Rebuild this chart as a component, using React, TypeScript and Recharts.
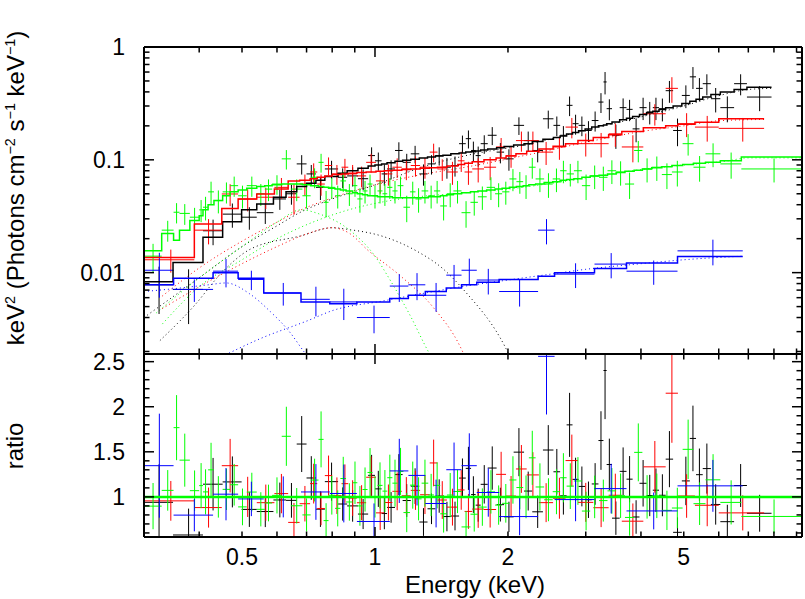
import React from 'react'
import { ComposedChart, Scatter, ErrorBar, Line, XAxis, YAxis, ReferenceLine } from 'recharts'

// frame edges (page pixels)
const W = 805
const H = 599
const PLOT_LEFT = 144
const PLOT_RIGHT = 802
const PLOT_TOP = 47
const PLOT_MID = 354
const PLOT_BOTTOM = 537
const FONT = '"Liberation Sans", Arial, Helvetica, sans-serif'

const BLACK = '#000000'
const RED = '#ff0000'
const GREEN = '#00ff00'
const BLUE = '#0000ff'

const energyDomain = [0.3, 9.26]
const energyTicks = [0.3, 0.4, 0.5, 0.6, 0.7, 0.8, 0.9, 1, 2, 3, 4, 5, 6, 7, 8, 9]
const energyLabels = [0.5, 1, 2, 5]
const fluxDomain = [0.0019, 1]
const fluxTicks = [0.002, 0.003, 0.004, 0.005, 0.006, 0.007, 0.008, 0.009, 0.01, 0.02, 0.03, 0.04, 0.05, 0.06, 0.07, 0.08, 0.09, 0.1, 0.2, 0.3, 0.4, 0.5, 0.6, 0.7, 0.8, 0.9, 1]
const fluxLabels = [0.01, 0.1, 1]
const ratioDomain = [0.555, 2.585]
const ratioTicks = [0.6, 0.7, 0.8, 0.9, 1, 1.1, 1.2, 1.3, 1.4, 1.5, 1.6, 1.7, 1.8, 1.9, 2, 2.1, 2.2, 2.3, 2.4, 2.5]
const ratioLabels = [1, 1.5, 2, 2.5]

// spectral bins: [E low, E high, data keV^2 flux, 1-sigma error, folded model in that bin]
type Bin = [number, number, number, number, number]

const blackBins: Bin[] = [
  [0.30, 0.349, 0.0078, 0.0035, 0.0083], [0.349, 0.408, 0.0071, 0.0036, 0.0123], [0.408, 0.452, 0.0235, 0.006, 0.0206],
  [0.452, 0.499, 0.033, 0.008, 0.0283], [0.499, 0.54, 0.031, 0.007, 0.036], [0.54, 0.589, 0.034, 0.007, 0.0406],
  [0.589, 0.629, 0.045, 0.009, 0.0466], [0.629, 0.665, 0.05, 0.01, 0.052], [0.665, 0.70, 0.092, 0.018, 0.058],
  [0.70, 0.735, 0.075, 0.015, 0.062], [0.735, 0.77, 0.057, 0.013, 0.066], [0.77, 0.825, 0.083, 0.015, 0.071],
  [0.825, 0.865, 0.07, 0.014, 0.076], [0.865, 0.915, 0.072, 0.014, 0.08], [0.915, 0.965, 0.068, 0.014, 0.084],
  [0.965, 1.0, 0.109, 0.02, 0.088], [1.0, 1.035, 0.098, 0.018, 0.09], [1.035, 1.065, 0.075, 0.016, 0.092],
  [1.065, 1.11, 0.083, 0.016, 0.094], [1.11, 1.155, 0.121, 0.022, 0.097], [1.155, 1.205, 0.095, 0.018, 0.099],
  [1.205, 1.26, 0.113, 0.02, 0.101], [1.26, 1.315, 0.075, 0.016, 0.104], [1.315, 1.37, 0.092, 0.018, 0.106],
  [1.37, 1.425, 0.109, 0.02, 0.108], [1.425, 1.485, 0.086, 0.018, 0.11], [1.485, 1.55, 0.089, 0.018, 0.113],
  [1.55, 1.605, 0.139, 0.025, 0.115], [1.605, 1.65, 0.154, 0.028, 0.117], [1.65, 1.69, 0.121, 0.024, 0.118],
  [1.69, 1.735, 0.109, 0.022, 0.12], [1.735, 1.80, 0.139, 0.026, 0.122], [1.80, 1.885, 0.165, 0.03, 0.125],
  [1.885, 1.96, 0.117, 0.024, 0.128], [1.96, 2.06, 0.102, 0.022, 0.131], [2.06, 2.175, 0.202, 0.036, 0.135],
  [2.175, 2.27, 0.148, 0.03, 0.139], [2.27, 2.40, 0.121, 0.026, 0.145], [2.40, 2.535, 0.231, 0.042, 0.152],
  [2.535, 2.625, 0.202, 0.04, 0.158], [2.625, 2.715, 0.165, 0.034, 0.163], [2.715, 2.80, 0.304, 0.06, 0.169],
  [2.80, 2.89, 0.209, 0.042, 0.175], [2.89, 2.99, 0.202, 0.04, 0.181], [2.99, 3.095, 0.182, 0.038, 0.188],
  [3.095, 3.205, 0.223, 0.045, 0.195], [3.205, 3.29, 0.325, 0.065, 0.2], [3.29, 3.345, 0.49, 0.11, 0.204],
  [3.345, 3.44, 0.284, 0.06, 0.209], [3.44, 3.58, 0.165, 0.04, 0.216], [3.58, 3.71, 0.29, 0.06, 0.226],
  [3.71, 3.83, 0.28, 0.06, 0.234], [3.83, 3.97, 0.188, 0.045, 0.242], [3.97, 4.12, 0.29, 0.065, 0.252],
  [4.12, 4.255, 0.266, 0.06, 0.262], [4.255, 4.395, 0.29, 0.065, 0.27], [4.395, 4.55, 0.284, 0.065, 0.279],
  [4.55, 4.73, 0.41, 0.09, 0.289], [4.73, 4.95, 0.182, 0.05, 0.3], [4.95, 5.16, 0.372, 0.085, 0.316],
  [5.16, 5.33, 0.544, 0.12, 0.33], [5.33, 5.52, 0.43, 0.1, 0.345], [5.52, 5.76, 0.473, 0.1, 0.36],
  [5.76, 6.05, 0.348, 0.085, 0.38], [6.05, 6.5, 0.29, 0.075, 0.4], [6.5, 6.95, 0.473, 0.1, 0.42],
  [6.95, 7.9, 0.36, 0.09, 0.44],
]

const redBins: Bin[] = [
  [0.30, 0.39, 0.013, 0.003, 0.0136], [0.39, 0.45, 0.0238, 0.006, 0.027], [0.45, 0.49, 0.0498, 0.011, 0.037],
  [0.49, 0.54, 0.0449, 0.01, 0.0449], [0.54, 0.592, 0.0466, 0.01, 0.0498], [0.592, 0.636, 0.057, 0.012, 0.055],
  [0.636, 0.675, 0.0466, 0.014, 0.065], [0.675, 0.713, 0.061, 0.013, 0.066], [0.713, 0.74, 0.078, 0.015, 0.068],
  [0.74, 0.77, 0.061, 0.013, 0.07], [0.77, 0.80, 0.089, 0.016, 0.072], [0.80, 0.84, 0.075, 0.015, 0.074],
  [0.84, 0.87, 0.086, 0.016, 0.075], [0.87, 0.91, 0.075, 0.015, 0.076], [0.91, 0.955, 0.072, 0.015, 0.077],
  [0.955, 1.005, 0.095, 0.018, 0.078], [1.005, 1.05, 0.065, 0.015, 0.079], [1.05, 1.095, 0.075, 0.016, 0.08],
  [1.095, 1.15, 0.086, 0.017, 0.081], [1.15, 1.205, 0.083, 0.017, 0.082], [1.205, 1.265, 0.089, 0.018, 0.083],
  [1.265, 1.33, 0.086, 0.018, 0.084], [1.33, 1.385, 0.117, 0.022, 0.085], [1.385, 1.455, 0.083, 0.018, 0.086],
  [1.455, 1.54, 0.078, 0.018, 0.088], [1.54, 1.595, 0.098, 0.02, 0.091], [1.595, 1.66, 0.078, 0.018, 0.093],
  [1.66, 1.765, 0.083, 0.02, 0.096], [1.765, 1.88, 0.086, 0.02, 0.1], [1.88, 1.98, 0.13, 0.026, 0.104],
  [1.98, 2.085, 0.109, 0.024, 0.108], [2.085, 2.205, 0.148, 0.03, 0.113], [2.205, 2.35, 0.148, 0.03, 0.119],
  [2.35, 2.53, 0.117, 0.027, 0.125], [2.53, 2.70, 0.13, 0.03, 0.132], [2.70, 2.88, 0.195, 0.04, 0.139],
  [2.88, 3.12, 0.139, 0.032, 0.148], [3.12, 3.38, 0.139, 0.034, 0.158], [3.38, 3.62, 0.17, 0.04, 0.167],
  [3.62, 4.05, 0.13, 0.035, 0.178], [4.05, 4.55, 0.256, 0.055, 0.192], [4.55, 4.85, 0.43, 0.11, 0.2],
  [4.85, 5.3, 0.209, 0.05, 0.207], [5.3, 6.0, 0.195, 0.05, 0.215], [6.0, 7.6, 0.19, 0.045, 0.231],
]

const greenBins: Bin[] = [
  [0.30, 0.329, 0.014, 0.004, 0.0156], [0.329, 0.35, 0.0238, 0.005, 0.0222], [0.35, 0.361, 0.0343, 0.007, 0.0194],
  [0.361, 0.381, 0.0335, 0.007, 0.0238], [0.381, 0.40, 0.031, 0.0065, 0.029], [0.40, 0.408, 0.036, 0.008, 0.032],
  [0.408, 0.419, 0.038, 0.009, 0.036], [0.419, 0.432, 0.052, 0.012, 0.04], [0.432, 0.452, 0.0435, 0.01, 0.0435],
  [0.452, 0.47, 0.052, 0.011, 0.048], [0.47, 0.49, 0.059, 0.012, 0.052], [0.49, 0.5125, 0.048, 0.011, 0.054],
  [0.5125, 0.54, 0.059, 0.012, 0.056], [0.54, 0.563, 0.05, 0.011, 0.058], [0.563, 0.585, 0.055, 0.012, 0.059],
  [0.585, 0.615, 0.061, 0.012, 0.06], [0.615, 0.645, 0.102, 0.02, 0.061], [0.645, 0.685, 0.055, 0.012, 0.061],
  [0.685, 0.715, 0.048, 0.011, 0.06], [0.715, 0.745, 0.07, 0.014, 0.059], [0.745, 0.765, 0.095, 0.018, 0.058],
  [0.765, 0.785, 0.042, 0.011, 0.057], [0.785, 0.812, 0.057, 0.012, 0.056], [0.812, 0.835, 0.048, 0.011, 0.055],
  [0.835, 0.86, 0.065, 0.013, 0.054], [0.86, 0.89, 0.05, 0.011, 0.053], [0.89, 0.912, 0.059, 0.012, 0.051],
  [0.912, 0.937, 0.045, 0.011, 0.05], [0.937, 0.962, 0.053, 0.012, 0.049], [0.962, 0.987, 0.061, 0.013, 0.048],
  [0.987, 1.013, 0.048, 0.011, 0.048], [1.013, 1.04, 0.053, 0.012, 0.047], [1.04, 1.066, 0.05, 0.011, 0.047],
  [1.066, 1.095, 0.057, 0.012, 0.047], [1.095, 1.125, 0.053, 0.012, 0.046], [1.125, 1.16, 0.059, 0.012, 0.046],
  [1.16, 1.2, 0.038, 0.01, 0.046], [1.2, 1.235, 0.052, 0.012, 0.046], [1.235, 1.275, 0.045, 0.011, 0.046],
  [1.275, 1.32, 0.053, 0.012, 0.046], [1.32, 1.36, 0.048, 0.011, 0.047], [1.36, 1.405, 0.053, 0.012, 0.047],
  [1.405, 1.455, 0.039, 0.01, 0.048], [1.455, 1.505, 0.05, 0.012, 0.049], [1.505, 1.57, 0.053, 0.012, 0.05],
  [1.57, 1.645, 0.034, 0.009, 0.051], [1.645, 1.71, 0.042, 0.01, 0.052], [1.71, 1.79, 0.047, 0.011, 0.053],
  [1.79, 1.87, 0.057, 0.013, 0.054], [1.87, 1.94, 0.05, 0.012, 0.055], [1.94, 2.015, 0.052, 0.012, 0.056],
  [2.015, 2.09, 0.0677, 0.015, 0.057], [2.09, 2.165, 0.064, 0.014, 0.058], [2.165, 2.23, 0.059, 0.014, 0.059],
  [2.23, 2.31, 0.086, 0.018, 0.06], [2.31, 2.415, 0.0677, 0.016, 0.061], [2.415, 2.525, 0.061, 0.015, 0.063],
  [2.525, 2.625, 0.0677, 0.016, 0.064], [2.625, 2.715, 0.08, 0.018, 0.066], [2.715, 2.82, 0.075, 0.017, 0.067],
  [2.82, 2.94, 0.08, 0.018, 0.068], [2.94, 3.07, 0.059, 0.015, 0.07], [3.07, 3.215, 0.072, 0.017, 0.072],
  [3.215, 3.36, 0.07, 0.017, 0.073], [3.36, 3.515, 0.08, 0.019, 0.075], [3.515, 3.68, 0.078, 0.019, 0.077],
  [3.68, 3.86, 0.061, 0.016, 0.079], [3.86, 4.03, 0.121, 0.026, 0.081], [4.03, 4.23, 0.083, 0.02, 0.083],
  [4.23, 4.46, 0.086, 0.021, 0.085], [4.46, 4.7, 0.074, 0.019, 0.087], [4.7, 4.97, 0.078, 0.02, 0.089],
  [4.97, 5.26, 0.139, 0.03, 0.091], [5.26, 5.6, 0.086, 0.022, 0.093], [5.6, 6.05, 0.113, 0.027, 0.095],
  [6.05, 6.75, 0.092, 0.024, 0.098], [6.75, 9.26, 0.083, 0.02, 0.106],
]

const blueBins: Bin[] = [
  [0.30, 0.35, 0.0105, 0.0045, 0.0078], [0.35, 0.43, 0.0071, 0.0016, 0.0089], [0.43, 0.49, 0.0103, 0.0029, 0.01],
  [0.49, 0.56, 0.0087, 0.0017, 0.0089], [0.56, 0.68, 0.0066, 0.0015, 0.0066], [0.68, 0.79, 0.0058, 0.0017, 0.0055],
  [0.79, 0.91, 0.0055, 0.0017, 0.0053], [0.91, 1.08, 0.004, 0.0011, 0.0055], [1.08, 1.19, 0.0076, 0.0021, 0.0059],
  [1.19, 1.3, 0.0078, 0.0021, 0.0063], [1.3, 1.45, 0.0063, 0.0018, 0.0068], [1.45, 1.57, 0.0095, 0.0022, 0.0073],
  [1.57, 1.7, 0.0105, 0.0028, 0.0078], [1.7, 1.91, 0.0086, 0.0022, 0.0082], [1.91, 2.34, 0.0068, 0.0018, 0.0087],
  [2.34, 2.55, 0.0238, 0.006, 0.0093], [2.55, 3.14, 0.0097, 0.0024, 0.01], [3.14, 3.71, 0.0119, 0.003, 0.0109],
  [3.71, 4.84, 0.0103, 0.0025, 0.0122], [4.84, 6.8, 0.0156, 0.004, 0.0139],
]

// additive model components (dotted): [energy, keV^2 flux]
type Pt = [number, number]

const blackThermal: Pt[] = [
  [0.326, 0.0025], [0.39, 0.0051], [0.45, 0.01], [0.52, 0.016], [0.68, 0.0212], [0.8, 0.025], [0.88, 0.024],
  [1.04, 0.021], [1.24, 0.0156], [1.43, 0.0107], [1.6, 0.0068], [1.97, 0.0022], [2.05, 0.0016],
]
const blackPowerlaw: Pt[] = [
  [0.3, 0.004], [0.4, 0.009], [0.5, 0.017], [0.6, 0.026], [0.68, 0.0345], [0.8, 0.045], [0.99, 0.059], [1.3, 0.088],
  [1.64, 0.111], [2.2, 0.136], [3, 0.183], [4, 0.24], [5, 0.3], [6, 0.37], [7, 0.42], [7.9, 0.43],
]
const redThermal: Pt[] = [
  [0.33, 0.0048], [0.4, 0.0075], [0.5, 0.012], [0.6, 0.017], [0.7, 0.022], [0.8, 0.025], [0.88, 0.022],
  [0.96, 0.016], [1.14, 0.0094], [1.35, 0.005], [1.56, 0.0022], [1.62, 0.0016],
]
const redPowerlaw: Pt[] = [
  [0.33, 0.0062], [0.4, 0.011], [0.5, 0.019], [0.6, 0.028], [0.68, 0.036], [0.8, 0.046], [1.0, 0.06], [1.3, 0.075],
  [1.6, 0.086], [2.2, 0.11], [3, 0.143], [4, 0.178], [5, 0.2], [6, 0.222], [7.6, 0.228],
]
const greenThermal: Pt[] = [
  [0.32, 0.0044], [0.4, 0.009], [0.5, 0.017], [0.6, 0.028], [0.68, 0.036], [0.75, 0.033], [0.88, 0.0235],
  [1.0, 0.014], [1.08, 0.0087], [1.2, 0.0042], [1.33, 0.0019], [1.38, 0.0015],
]
const greenPowerlaw: Pt[] = [
  [0.33, 0.0035], [0.4, 0.0075], [0.5, 0.013], [0.6, 0.02], [0.68, 0.0253], [0.85, 0.035], [1.14, 0.045], [1.5, 0.05],
  [2, 0.055], [3, 0.069], [4, 0.082], [5, 0.09], [6.2, 0.097], [7, 0.104], [9.26, 0.104],
]
const blueThermal: Pt[] = [
  [0.3, 0.0068], [0.35, 0.0072], [0.42, 0.0078], [0.46, 0.0081], [0.52, 0.0065], [0.58, 0.0045], [0.64, 0.003],
  [0.69, 0.002], [0.72, 0.0016],
]
const bluePowerlaw: Pt[] = [
  [0.45, 0.0018], [0.55, 0.0026], [0.71, 0.0038], [0.8, 0.0046], [1.04, 0.0056], [1.3, 0.0066], [1.6, 0.0076],
  [2, 0.0086], [2.5, 0.0097], [3, 0.0107], [4, 0.012], [5, 0.013], [6.8, 0.014],
]

const groups = [
  { color: BLACK, bins: blackBins, parts: [blackThermal, blackPowerlaw] },
  { color: RED, bins: redBins, parts: [redThermal, redPowerlaw] },
  { color: GREEN, bins: greenBins, parts: [greenThermal, greenPowerlaw] },
  { color: BLUE, bins: blueBins, parts: [blueThermal, bluePowerlaw] },
]

function fluxPoints(bins: Bin[]) {
  return bins.map(([lo, hi, f, s]) => {
    const e = (lo + hi) / 2
    return { e, ex: [e - lo, hi - e], f, fe: [s, s] }
  })
}

// ratio panel = data / folded model, bin by bin
function ratioPoints(bins: Bin[]) {
  return bins.map(([lo, hi, f, s, m]) => {
    const e = (lo + hi) / 2
    return { e, ex: [e - lo, hi - e], r: f / m, re: [s / m, s / m] }
  })
}

// folded model drawn as a histogram over the bins
function modelSteps(bins: Bin[]) {
  const pts = bins.map(([lo, , , , m]) => ({ e: lo, v: m }))
  const last = bins[bins.length - 1]
  pts.push({ e: last[1], v: last[4] })
  return pts
}

const curve = (pts: Pt[]) => pts.map(([e, v]) => ({ e, v }))

const noShape = () => <g />

const tickText = { fontFamily: FONT, fontSize: 23, fill: '#000' }

function EnergyTick({ x, payload, edge, dir, labels }: any) {
  const v = payload.value
  const len = v === 1 ? 10 : 5.5
  return (
    <g>
      <line x1={x} x2={x} y1={edge} y2={edge + dir * len} stroke="#000" strokeWidth={1.5} />
      {labels && energyLabels.includes(v) && (
        <text x={x} y={edge + 20} textAnchor="middle" dominantBaseline="central" style={tickText}>
          {v}
        </text>
      )}
    </g>
  )
}

function ValueTick({ y, payload, edge, dir, majors, labels }: any) {
  const v = payload.value
  const major = majors.includes(v)
  const len = major ? 10 : 5.5
  return (
    <g>
      <line x1={edge} x2={edge + dir * len} y1={y} y2={y} stroke="#000" strokeWidth={1.5} />
      {labels && major && (
        <text x={PLOT_LEFT - 19} y={y} textAnchor="end" dominantBaseline="central" style={tickText}>
          {v}
        </text>
      )}
    </g>
  )
}

const frameLine = { stroke: '#000', strokeWidth: 2 }
const logX = { dataKey: 'e', type: 'number' as const, scale: 'log' as const, domain: energyDomain, allowDataOverflow: true }

// frame, ticks and tick labels of one panel
function PanelAxes({ top, bottom, yScale, yDomain, yTicks, yMajors, xLabels }: any) {
  const yAxis = { type: 'number' as const, scale: yScale, domain: yDomain, allowDataOverflow: true, ticks: yTicks, interval: 0 as const, tickLine: false, axisLine: frameLine }
  const xAxis = { ...logX, ticks: energyTicks, interval: 0 as const, tickLine: false, axisLine: frameLine }
  const bottomAxisHeight = xLabels ? H - bottom : 1
  return (
    <ComposedChart width={W} height={H} margin={{ top: top - 1, right: W - PLOT_RIGHT - 1, bottom: H - bottom - bottomAxisHeight, left: 0 }}>
      <XAxis xAxisId="b" {...xAxis} height={bottomAxisHeight}
        tick={(p: any) => <EnergyTick {...p} edge={bottom} dir={-1} labels={xLabels} />} />
      <XAxis xAxisId="t" orientation="top" {...xAxis} height={1}
        tick={(p: any) => <EnergyTick {...p} edge={top} dir={1} labels={false} />} />
      <YAxis yAxisId="l" {...yAxis} width={PLOT_LEFT}
        tick={(p: any) => <ValueTick {...p} edge={PLOT_LEFT} dir={1} majors={yMajors} labels />} />
      <YAxis yAxisId="r" orientation="right" {...yAxis} width={1}
        tick={(p: any) => <ValueTick {...p} edge={PLOT_RIGHT} dir={-1} majors={yMajors} labels={false} />} />
      <ReferenceLine xAxisId="b" yAxisId="l" y={yDomain[1]} stroke="none" />
    </ComposedChart>
  )
}

// series layer, clipped to the plot rectangle
function Clip({ top, bottom, children }: any) {
  return (
    <div style={{ position: 'absolute', left: 0, top: 0, clipPath: `inset(${top}px ${W - PLOT_RIGHT}px ${H - bottom}px ${PLOT_LEFT}px)` }}>
      {children}
    </div>
  )
}

function FluxSeries() {
  return (
    <ComposedChart width={W} height={H} margin={{ top: PLOT_TOP, right: W - PLOT_RIGHT, bottom: H - PLOT_MID, left: PLOT_LEFT }}>
      <XAxis xAxisId="b" {...logX} hide />
      <YAxis yAxisId="l" type="number" scale="log" domain={fluxDomain} allowDataOverflow hide />
      {groups.flatMap((g, gi) =>
        g.parts.map((part, pi) => (
          <Line key={`c${gi}-${pi}`} xAxisId="b" yAxisId="l" data={curve(part)} dataKey="v" type="monotone"
            stroke={g.color} strokeWidth={1} strokeDasharray="1 3" dot={false} isAnimationActive={false} />
        ))
      )}
      {groups.map((g, gi) => (
        <Scatter key={`d${gi}`} xAxisId="b" yAxisId="l" data={fluxPoints(g.bins)} dataKey="f"
          shape={noShape} isAnimationActive={false}>
          <ErrorBar dataKey="ex" direction="x" width={0} stroke={g.color} strokeWidth={1} isAnimationActive={false} />
          <ErrorBar dataKey="fe" direction="y" width={0} stroke={g.color} strokeWidth={1} isAnimationActive={false} />
        </Scatter>
      ))}
      {groups.map((g, gi) => (
        <Line key={`m${gi}`} xAxisId="b" yAxisId="l" data={modelSteps(g.bins)} dataKey="v" type="stepAfter"
          stroke={g.color} strokeWidth={1.5} dot={false} isAnimationActive={false} />
      ))}
    </ComposedChart>
  )
}

function RatioSeries() {
  return (
    <ComposedChart width={W} height={H} margin={{ top: PLOT_MID, right: W - PLOT_RIGHT, bottom: H - PLOT_BOTTOM, left: PLOT_LEFT }}>
      <XAxis xAxisId="b" {...logX} hide />
      <YAxis yAxisId="l" type="number" domain={ratioDomain} allowDataOverflow hide />
      {groups.map((g, gi) => (
        <Scatter key={`r${gi}`} xAxisId="b" yAxisId="l" data={ratioPoints(g.bins)} dataKey="r"
          shape={noShape} isAnimationActive={false}>
          <ErrorBar dataKey="ex" direction="x" width={0} stroke={g.color} strokeWidth={1} isAnimationActive={false} />
          <ErrorBar dataKey="re" direction="y" width={0} stroke={g.color} strokeWidth={1} isAnimationActive={false} />
        </Scatter>
      ))}
      <ReferenceLine xAxisId="b" yAxisId="l" y={1} stroke={GREEN} strokeWidth={2.5} />
    </ComposedChart>
  )
}

export default function App() {
  const label: React.CSSProperties = {
    position: 'absolute',
    fontFamily: FONT,
    fontSize: 24,
    lineHeight: 1,
    whiteSpace: 'nowrap',
    color: '#000',
  }
  const sup: React.CSSProperties = { fontSize: '0.6em' }
  return (
    <div style={{ position: 'absolute', left: 0, top: 0, width: W, height: H, background: '#fff' }}>
      <Clip top={PLOT_TOP} bottom={PLOT_MID}>
        <FluxSeries />
      </Clip>
      <Clip top={PLOT_MID} bottom={PLOT_BOTTOM}>
        <RatioSeries />
      </Clip>
      <div style={{ position: 'absolute', left: 0, top: 0 }}>
        <PanelAxes top={PLOT_TOP} bottom={PLOT_MID} yScale="log" yDomain={fluxDomain} yTicks={fluxTicks} yMajors={fluxLabels} xLabels={false} />
      </div>
      <div style={{ position: 'absolute', left: 0, top: 0 }}>
        <PanelAxes top={PLOT_MID} bottom={PLOT_BOTTOM} yScale="linear" yDomain={ratioDomain} yTicks={ratioTicks} yMajors={ratioLabels} xLabels />
      </div>
      <div style={{ ...label, left: 15, top: 188, transform: 'translate(-50%, -50%) rotate(-90deg)' }}>
        keV<sup style={sup}>2</sup> (Photons cm<sup style={sup}>−2</sup> s<sup style={sup}>−1</sup> keV<sup style={sup}>−1</sup>)
      </div>
      <div style={{ ...label, left: 15, top: 446, transform: 'translate(-50%, -50%) rotate(-90deg)' }}>ratio</div>
      <div style={{ ...label, left: 475, top: 585, transform: 'translate(-50%, -50%)' }}>Energy (keV)</div>
    </div>
  )
}
